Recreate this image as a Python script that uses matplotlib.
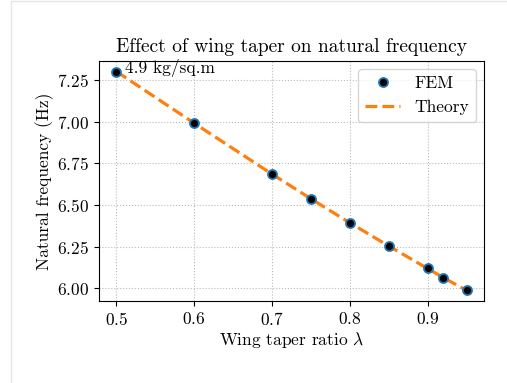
import matplotlib
matplotlib.use("Agg")
import matplotlib.pyplot as plt
from matplotlib.patches import Rectangle

# data
taper = [0.5, 0.6, 0.7, 0.75, 0.8, 0.85, 0.9, 0.92, 0.95]
freq_fem = [7.298, 6.989, 6.684, 6.536, 6.395, 6.254, 6.120, 6.063, 5.989]
freq_theory = [7.300, 6.990, 6.685, 6.537, 6.393, 6.254, 6.119, 6.065, 5.988]

plt.rcParams['font.family'] = 'serif'
plt.rcParams['font.serif'] = ['cmr10']
plt.rcParams['mathtext.fontset'] = 'cm'
plt.rcParams['axes.formatter.use_mathtext'] = True
plt.rcParams['font.size'] = 12.5

fig, ax = plt.subplots(figsize=(5.07, 3.83), dpi=100)
fig.subplots_adjust(left=0.195, right=0.955, top=0.842, bottom=0.213)

# faint frame around the picture
fig.patches.append(Rectangle((0.022, -0.01), 1.0, 1.007, transform=fig.transFigure,
                             fill=False, edgecolor='#e6e6e6', linewidth=1))

ax.plot(taper, freq_fem, 'o', color='black', markeredgecolor='C0',
        markersize=6.5, markeredgewidth=1.3, label='FEM', zorder=3)
ax.plot(taper, freq_theory, '--', color='C1', linewidth=2.3, label='Theory', zorder=2)
ax.annotate('4.9 kg/sq.m', (taper[0], freq_fem[0]), xytext=(6, -1),
            textcoords='offset points', fontsize=12.5)

ax.set_title('Effect of wing taper on natural frequency', fontsize=14)
ax.set_xlabel(r'Wing taper ratio $\lambda$', labelpad=1)
ax.set_ylabel('Natural frequency (Hz)', labelpad=2)
ax.set_yticks([6.00, 6.25, 6.50, 6.75, 7.00, 7.25])
ax.grid(True, linestyle=':', color='#bbbbbb', linewidth=0.8)
ax.legend(loc='upper right', fontsize=12.5)

fig.savefig('out.png', dpi=100)
